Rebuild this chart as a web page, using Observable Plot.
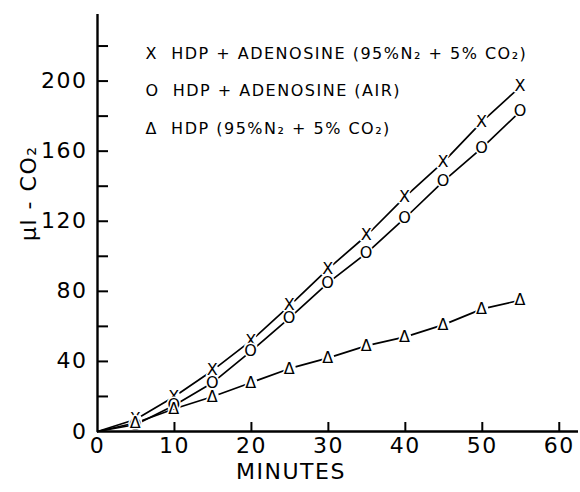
<!DOCTYPE html>
<html><head><meta charset="utf-8">
<script src="https://cdn.jsdelivr.net/npm/d3@7"></script>
<script src="https://cdn.jsdelivr.net/npm/@observablehq/plot@0.6"></script>
<style>
html,body{margin:0;padding:0;background:#fff;}
</style></head><body><div id="chart"></div>
<script>
// Data
const minutes = [0, 5, 10, 15, 20, 25, 30, 35, 40, 45, 50, 55];
const adenosineN2 = [0, 7, 20, 35, 52, 72, 93, 112, 134, 154, 177, 197];   // X
const adenosineAir = [0, 4, 15, 28, 46, 65, 85, 102, 122, 143, 162, 183];  // O
const hdpN2 = [0, 5, 13, 20, 28, 36, 42, 49, 54, 61, 70, 75];              // Δ
const seriesValues = [adenosineN2, adenosineAir, hdpN2];
const markers = ["X", "O", "Δ"];
const legendLabels = [
  "X  HDP + ADENOSINE (95%N₂ + 5% CO₂)",
  "O  HDP + ADENOSINE (AIR)",
  "Δ  HDP (95%N₂ + 5% CO₂)"
];
const xTickLabels = [0, 10, 20, 30, 40, 50, 60];
const xTickMarks = [10, 20, 30, 40, 50, 60];
const yTickLabels = [0, 40, 80, 120, 160, 200];
const yTickMarks = [20, 40, 60, 80, 100, 120, 140, 160, 180, 200, 220];
const xLabel = "MINUTES";
const yLabel = "μl - CO₂";

const rows = [];
seriesValues.forEach((vals, s) => {
  vals.forEach((v, i) => rows.push({series: markers[s], minute: minutes[i], value: v}));
});
const pts = rows.filter(d => d.minute > 0);

const font = "DejaVu Sans";
const chart = Plot.plot({
  width: 580,
  height: 492,
  marginLeft: 97,
  marginRight: 2,
  marginTop: 14,
  marginBottom: 61,
  x: {domain: [0, 62.5]},
  y: {domain: [0, 238]},
  style: {fontFamily: font, color: "black", background: "white", letterSpacing: "1.5px"},
  marks: [
    Plot.line(rows, {x: "minute", y: "value", z: "series", stroke: "black", strokeWidth: 1.7}),
    Plot.dot(pts, {x: "minute", y: "value", r: 6, fill: "white"}),
    Plot.text(pts, {x: "minute", y: "value", text: "series", fontSize: 16, fill: "black",
      stroke: "white", strokeWidth: 3, paintOrder: "stroke"}),
    Plot.ruleX([0], {stroke: "black", strokeWidth: 2.4}),
    Plot.ruleY([0], {stroke: "black", strokeWidth: 2.4}),
    Plot.axisY({ticks: yTickMarks, tickSize: -11, tickFormat: () => "", label: null, strokeWidth: 2}),
    Plot.axisY({ticks: yTickLabels, tickSize: 0, tickPadding: 10, fontSize: 22, label: null}),
    Plot.axisX({ticks: xTickMarks, tickSize: -9, tickFormat: () => "", label: null, strokeWidth: 2}),
    Plot.axisX({ticks: xTickLabels, tickSize: 0, tickPadding: 6, fontSize: 22, label: null}),
    Plot.text([xLabel], {frameAnchor: "bottom", dx: -47, dy: 47, fontSize: 22}),
    Plot.text([yLabel], {frameAnchor: "left", dx: -69, dy: 18, rotate: -90, fontSize: 22}),
    ...legendLabels.map((t, i) => Plot.text([t], {frameAnchor: "top-left", textAnchor: "start",
      dx: 48, dy: 33 + i * 37.5, fontSize: 16}))
  ]
});
document.getElementById("chart").appendChild(chart);
</script>
</body></html>
